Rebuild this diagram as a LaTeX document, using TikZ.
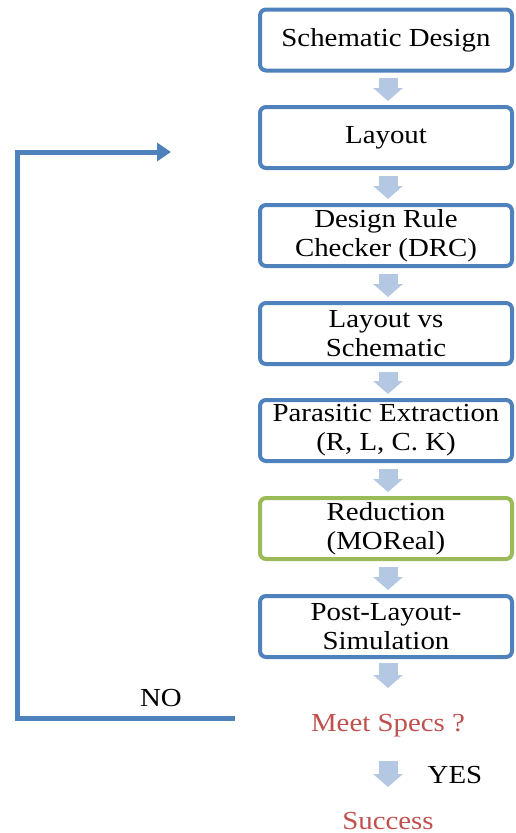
\documentclass[tikz,border=0pt]{standalone}
\usepackage{fontspec}
\setmainfont{Liberation Serif}[FakeStretch=1.11]
\usetikzlibrary{arrows.meta}
\definecolor{boxblue}{HTML}{4F81BD}
\definecolor{boxgreen}{HTML}{9BBB59}
\definecolor{arrowblue}{HTML}{B4C7E3}
\definecolor{specred}{HTML}{C0504D}
\tikzset{
  stepbox/.style={draw=boxblue, line width=4pt, rounded corners=6pt, fill=white,
    minimum width=252pt, minimum height=61pt, align=center, inner sep=0pt,
    font=\fontsize{26}{29}\selectfont},
  greenbox/.style={stepbox, draw=boxgreen},
  flowarrow/.style={draw=arrowblue, line width=19pt, line cap=butt,
    -{Triangle[width=29pt,length=13pt]}, shorten <=4pt, shorten >=2pt},
  plaintext/.style={inner sep=0pt, font=\fontsize{26}{29}\selectfont},
  redtext/.style={plaintext, text=specred},
  loopline/.style={draw=boxblue, line width=5pt, line join=miter,
    -{Triangle[width=18pt,length=14pt]}}
}
\begin{document}
\begin{tikzpicture}[x=1pt,y=1pt]
\useasboundingbox (0,0) rectangle (515,-833);
\node[stepbox] (b1) at (386,-40) {Schematic Design};
\node[stepbox] (b2) at (386,-137.5) {Layout};
\node[stepbox] (b3) at (386,-235.5) {Design Rule\\Checker (DRC)};
\node[stepbox] (b4) at (386,-333.5) {Layout vs\\Schematic};
\node[stepbox] (b5) at (386,-430.5) {Parasitic Extraction\\(R, L, C. K)};
\node[greenbox] (b6) at (386,-528.5) {Reduction\\(MOReal)};
\node[stepbox] (b7) at (386,-626.5) {Post-Layout-\\Simulation};
\node[redtext, anchor=base] (spec) at (388,-731) {Meet Specs ?};
\node[redtext, anchor=base] (succ) at (388,-829) {Success};
\node[plaintext, anchor=base] (yes) at (455,-783) {YES};
\node[plaintext, anchor=base] (no) at (161,-706) {NO};
\coordinate (c1) at (388,-74);
\coordinate (c2) at (388,-103);
\coordinate (c3) at (388,-172);
\coordinate (c4) at (388,-201);
\coordinate (c5) at (388,-270);
\coordinate (c6) at (388,-299);
\coordinate (c7) at (388,-368);
\coordinate (c8) at (388,-396);
\coordinate (c9) at (388,-465);
\coordinate (c10) at (388,-494);
\coordinate (c11) at (388,-563);
\coordinate (c12) at (388,-592);
\coordinate (c13) at (388,-661);
\coordinate (c14) at (388,-688);
\coordinate (c15) at (388,-759);
\coordinate (c16) at (388,-787);
\draw[flowarrow] (c1) -- (c2);
\draw[flowarrow] (c3) -- (c4);
\draw[flowarrow] (c5) -- (c6);
\draw[flowarrow] (c7) -- (c8);
\draw[flowarrow] (c9) -- (c10);
\draw[flowarrow] (c11) -- (c12);
\draw[flowarrow, shorten <=2pt, shorten >=0pt] (c13) -- (c14);
\draw[flowarrow, shorten <=2pt, shorten >=0pt] (c15) -- (c16);
\coordinate (ls) at (235,-718);
\coordinate (lc1) at (17,-718);
\coordinate (lc2) at (17,-152);
\coordinate (le) at (171,-152);
\draw[loopline] (ls) -- (lc1) -- (lc2) -- (le);
\end{tikzpicture}
\end{document}
